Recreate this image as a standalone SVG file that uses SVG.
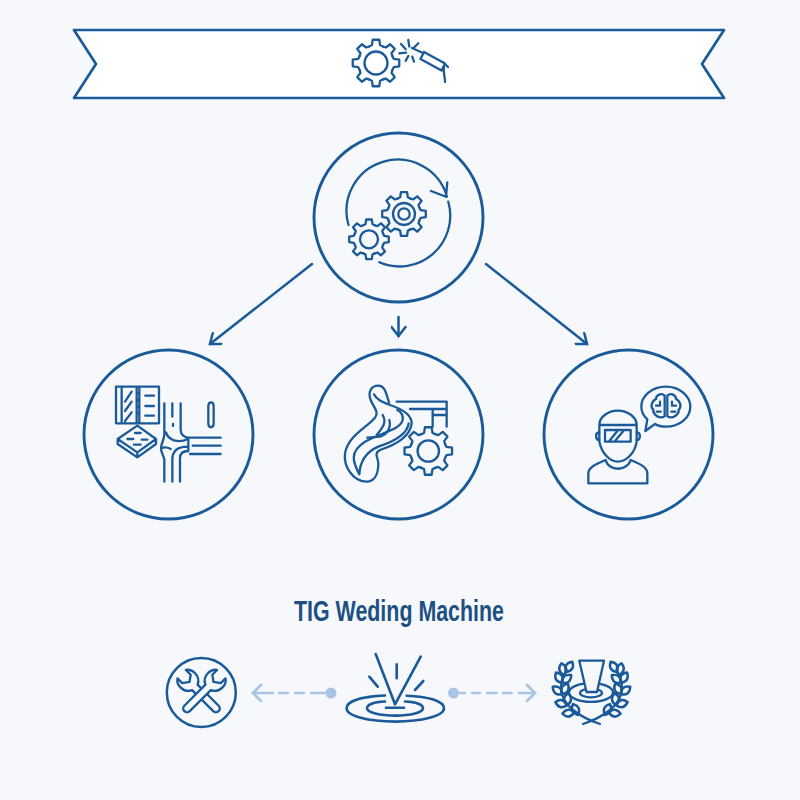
<svg xmlns="http://www.w3.org/2000/svg" width="800" height="800" viewBox="0 0 800 800">
<style>
.s{fill:none;stroke:#1b5a98;stroke-width:2.3;stroke-linecap:round;stroke-linejoin:round;vector-effect:non-scaling-stroke}
.b{fill:#f6f8fc}
.ring{fill:none;stroke:#1b5a98;stroke-width:2.9}
.conn{fill:none;stroke:#1b5a98;stroke-width:2.5;stroke-linecap:round}
.lite{fill:none;stroke:#a9c5e6;stroke-width:2.6;stroke-linecap:round}
</style>
<defs>
<path id="tooth" class="s" d="M-29.1,-70.2 Q-24,-72 -17.5,-76 L-13.9,-99 L13.9,-99 L17.5,-76 Q24,-72 29.1,-70.2"/>
<g id="gear">
<use href="#tooth"/><use href="#tooth" transform="rotate(45)"/><use href="#tooth" transform="rotate(90)"/><use href="#tooth" transform="rotate(135)"/><use href="#tooth" transform="rotate(180)"/><use href="#tooth" transform="rotate(225)"/><use href="#tooth" transform="rotate(270)"/><use href="#tooth" transform="rotate(315)"/>
</g>
<path id="leaf" class="s" style="stroke-width:2.5" d="M0,0 Q7,-6 0,-12 Q-7,-6 0,0 Z"/>
<path id="wrench" class="s b" d="M-4.5,24 A4.5,4.5 0 0 0 4.5,24 L4.5,-11 C9,-13 12,-18 12,-23 C12,-27 10,-31 7,-33 L7,-25 L0,-20 L-7,-25 L-7,-33 C-10,-31 -12,-27 -12,-23 C-12,-18 -9,-13 -4.5,-11 Z"/>
<g id="laurel">
<path class="s" d="M600,724 C582,718 561,706 561,688 C561,681 563,676 566,672"/>
<use href="#leaf" transform="translate(574.3,712.6) rotate(-95)"/><use href="#leaf" transform="translate(578,715) rotate(-25)"/>
<use href="#leaf" transform="translate(567,705.2) rotate(-75)"/><use href="#leaf" transform="translate(567,705.2) rotate(5)"/>
<use href="#leaf" transform="translate(562.2,694.2) rotate(-52)"/><use href="#leaf" transform="translate(562.2,694.2) rotate(28)"/>
<use href="#leaf" transform="translate(562,682.8) rotate(-30)"/><use href="#leaf" transform="translate(562,682.8) rotate(50)"/>
<use href="#leaf" transform="translate(566,672) rotate(32)"/><use href="#leaf" transform="translate(564,675) rotate(-12)"/>
</g>
<marker id="ah" markerUnits="userSpaceOnUse" markerWidth="16" markerHeight="16" refX="12" refY="8" orient="auto"><path d="M3,1 L12,8 L3,15" fill="none" stroke="#1b5a98" stroke-width="2.5" stroke-linecap="round"/></marker>
<marker id="al" markerUnits="userSpaceOnUse" markerWidth="16" markerHeight="20" refX="12" refY="10" orient="auto"><path d="M4,2 L12,10 L4,18" fill="none" stroke="#a9c5e6" stroke-width="2.8" stroke-linecap="round"/></marker>
</defs>
<rect width="800" height="800" fill="#f6f8fc"/>

<g id="banner">
<path d="M74,30 H724 L702,64 L724,98 H74 L96,64 Z" fill="#fff" stroke="#1b5a98" stroke-width="2.7" stroke-linejoin="round"/>
<use href="#gear" transform="translate(376,63) scale(.235)"/>
<circle class="s" cx="376" cy="63" r="11.5"/>
<path class="s" d="M424,52 L445,63.5 L441.5,70.5 L420.5,59 Z M412,48 L423,53 M443,62 L448,67 M444,67 C443,72 445,77 445,82 M408.3,40 L409.3,46.7 M401,44 L405.7,49.3 M418.3,43.3 L413.3,48.3 M399.3,53.3 L406,52.7 M405.7,60.7 L408.3,56 M414,61.7 L412.3,56.7"/>
</g>

<g id="connectors">
<path class="conn" d="M312,264 L210,344" marker-end="url(#ah)"/>
<path class="conn" d="M398.5,317 V336" marker-end="url(#ah)"/>
<path class="conn" d="M486,264 L587,344" marker-end="url(#ah)"/>
<path class="lite" d="M326,693 H311 M304,693 H295 M288,693 H279 M273,693 H253" marker-end="url(#al)"/>
<path class="lite" d="M460,693 H465 M472,693 H480 M487,693 H496.5 M503,693 H511.5 M519,693 H535" marker-end="url(#al)"/>
<circle cx="331" cy="693" r="5.5" fill="#a9c5e6"/>
<circle cx="453.5" cy="693" r="5.5" fill="#a9c5e6"/>
</g>

<g id="node-process">
<circle class="ring" cx="398.5" cy="217.5" r="84.5"/>
<path class="s" d="M348.5,225 A50.8,50.8 0 0 1 447,196.7 M447.3,182.3 L446,196.7 L431,191 M448.3,201.7 A50.8,50.8 0 0 1 379.3,262.3"/>
<use href="#gear" transform="translate(404,214) scale(.22)"/>
<circle class="s" cx="404" cy="214" r="11"/>
<circle class="s" cx="404" cy="214" r="5.7"/>
<use href="#gear" transform="translate(369,239.3) scale(.2)"/>
<circle class="s" cx="369" cy="239.3" r="9"/>
</g>

<g id="node-joints">
<circle class="ring" cx="168.5" cy="434.5" r="84.5"/>
<g transform="translate(80,345) scale(.33333)">
<path class="s" d="M108,125 H237 V235 H108 Z M125,125 V235 M170,125 V235 M178,125 V235 M135,170 L155,140 M135,198 L155,170 M135,228 L155,202 M196,152 H222 M196,183 H222 M196,212 H222 M170,145 H178 M170,165 H178 M170,185 H178 M170,205 H178"/>
<path class="s" d="M172,242 L228,282 L172,322 L113,282 Z M113,282 V297 L172,337 L228,297 V282 M172,322 V337 M142,282 H160 M165,264 H182 M185,284 H202 M162,299 H182"/>
<path class="s" d="M253,175 V268 C253,285 243,295 243,310 C243,325 253,335 253,345 V410 M277,175 V215 M279,237 V243 M302,175 V255 C302,270 315,278 325,278 H422 M277,410 V345 C277,320 290,305 322,305 M300,410 V340 C300,325 310,318 325,318 M338,302 H422 M330,327 H422 M325,278 V318 M258,262 C262,276 270,282 282,286 C296,290 312,288 325,281 M243,310 C252,306 262,306 272,312"/>
<path class="s" d="M393,172 C399,172 401,178 401,184 V235 C401,242 399,247 393,247 C387,247 385,242 385,235 V184 C385,178 387,172 393,172 Z"/>
</g>
</g>

<g id="node-flow">
<circle class="ring" cx="398.5" cy="434.5" r="84.5"/>
<use href="#gear" transform="translate(428.3,451) scale(.24)"/>
<circle class="s" cx="428.3" cy="451" r="10.7"/>
<g transform="translate(310,345) scale(.33333)">
<path class="s" d="M260,170 H410 V245 M300,192 H410 M368,245 V195 M368,210 H410"/>
<path class="s" d="M237,172 C228,145 225,122 205,122 C185,122 172,140 182,165 C192,190 208,200 195,218 C175,245 115,270 105,325 C100,365 130,410 170,410 C195,410 205,385 205,355 C205,340 190,325 210,315 C240,305 300,280 305,235 C305,205 270,190 240,180 C220,172 200,165 192,148"/>
<path class="s" d="M148,388 C128,350 118,320 165,290 C215,262 270,255 278,225 C280,208 272,200 262,195 M148,388 C150,350 170,320 205,305 C250,290 292,270 296,235"/>
<path class="s" d="M172,278 L210,275 C228,270 245,250 238,225 M200,270 C215,250 232,235 218,210"/>
</g>
</g>

<g id="node-welder">
<circle class="ring" cx="628.5" cy="434.5" r="84.5"/>
<g transform="translate(540,345) scale(.33333)">
<path class="s" d="M178,290 V240 C178,215 205,197 233,197 C262,197 290,215 290,240 V290 C285,325 258,350 233,350 C210,350 185,325 178,290 Z M178,240 H290"/>
<path class="s" d="M195,255 H272 V290 H195 Z M208,288 L232,258 M225,288 L250,258 M178,262 C165,262 165,285 178,285 M290,262 C303,262 303,285 290,285"/>
<path class="s" d="M145,415 V385 C145,365 175,355 197,345 C205,380 262,380 272,345 C295,355 322,365 322,385 V415 Z"/>
<path class="s" d="M322,223 C310,212 304,198 304,185 C304,152 336,125 378,125 C418,125 451,152 451,185 C451,218 418,245 378,245 C365,245 354,243 345,237 L316,258 Z"/>
<path class="s" d="M374,152 C364,142 348,150 348,162 C335,168 330,186 340,194 C338,208 358,224 374,214 Z M382,152 C392,142 408,150 408,162 C421,168 426,186 416,194 C418,208 398,224 382,214 Z M348,182 H360 V170 M350,200 H362 M408,182 H396 V170 M406,200 H394"/>
</g>
</g>

<g id="title"><text x="294" y="621" font-family="'Liberation Sans',Arial,sans-serif" font-weight="700" font-size="28.6" fill="#1d4f82" textLength="210" lengthAdjust="spacingAndGlyphs">TIG Weding Machine</text></g>

<g id="node-tools">
<circle class="ring" cx="201.3" cy="692.5" r="34.5" style="stroke-width:2.5"/>
<use href="#wrench" transform="translate(201.5,694) rotate(-45) scale(.85)"/>
<use href="#wrench" transform="translate(201.5,694) rotate(45) scale(.85)"/>
</g>

<g id="node-weld">
<path class="s" style="stroke-width:2.6" d="M375.7,654 L395,704.3 L420.7,656.7 M386,707.7 H404 M396.7,664.3 V678.3 M369.3,676.7 L377.7,686.7 M423.3,681 L415,690"/>
<path class="s" style="stroke-width:2.6" d="M385,695.5 C362,696.5 346.6,701 346.6,708.3 C346.6,716 368,721.6 395.3,721.6 C422,721.6 444,716 444,708.3 C444,701 428,696.5 406.7,695.7"/>
<path class="s" style="stroke-width:2.6" d="M385,701.5 C374,702 367,704.5 367,708.3 C367,712.5 380,715.6 395,715.6 C411,715.6 423,712.5 423,708.3 C423,704.5 416,702 405,701.5"/>
</g>

<g id="node-award">
<ellipse class="s" cx="591" cy="692.5" rx="22" ry="9.3"/>
<ellipse class="s" cx="591" cy="693" rx="11" ry="4.3"/>
<path class="s b" d="M579.3,660.7 H604 L597,692 H586.5 Z"/>
<use href="#laurel"/>
<use href="#laurel" transform="translate(1183,0) scale(-1,1)"/>
</g>
</svg>
